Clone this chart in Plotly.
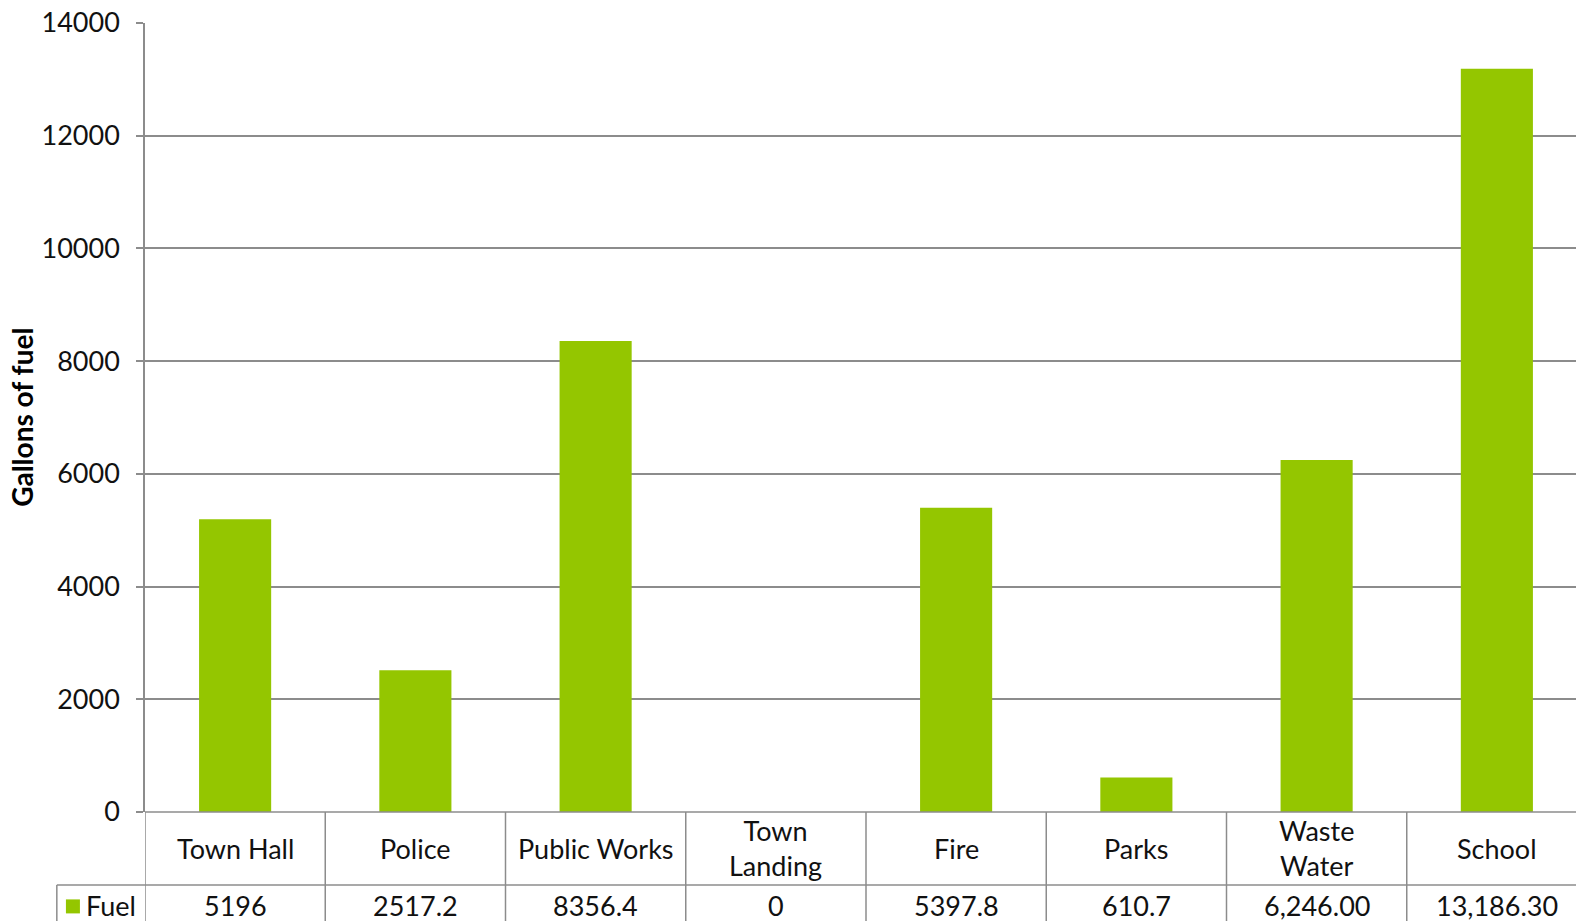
import plotly.graph_objects as go

categories = ["Town Hall", "Police", "Public Works", "Town<br>Landing", "Fire", "Parks", "Waste<br>Water", "School"]
fuel = [5196, 2517.2, 8356.4, 0, 5397.8, 610.7, 6246.00, 13186.30]
fuel_labels = ["5196", "2517.2", "8356.4", "0", "5397.8", "610.7", "6,246.00", "13,186.30"]
series_name = "Fuel"
y_ticks = [0, 2000, 4000, 6000, 8000, 10000, 12000, 14000]
y_title = "Gallons of fuel"

W, H = 1576, 921
L, T, B = 144.6, 22.6, 811.6
plot_h = B - T
plot_w = W - L
col_w = 180.3
n = len(categories)
x_max = plot_w / col_w - 0.5

GREEN = "#94c600"
GRID = "#8c8c8c"
FONT = "Lato, 'DejaVu Sans', sans-serif"
FS = 27

def py(px):
    return (B - px) / plot_h

def px_x(px):
    return (px - L) / plot_w

fig = go.Figure()
fig.add_trace(go.Bar(
    x=list(range(n)), y=fuel, name=series_name,
    marker=dict(color=GREEN, line=dict(width=0)),
    width=0.4, showlegend=False, hoverinfo="y",
))

fig.update_layout(
    width=W, height=H,
    margin=dict(l=L, r=0, t=T, b=H - B, pad=0),
    paper_bgcolor="white", plot_bgcolor="white",
    font=dict(family=FONT, size=FS, color="#111111"),
)
fig.update_xaxes(
    range=[-0.5, x_max], showticklabels=False, showgrid=False,
    zeroline=False, showline=False, ticks="", fixedrange=True,
)
fig.update_yaxes(
    range=[0, 14000], tickvals=y_ticks, ticktext=[str(v) for v in y_ticks],
    showgrid=True, gridcolor=GRID, gridwidth=1.5,
    ticks="outside", ticklen=7, tickcolor=GRID, tickwidth=1.5,
    ticklabelstandoff=11,
    showline=True, linecolor=GRID, linewidth=1.5,
    zeroline=False, tickfont=dict(size=FS, family=FONT, color="#111111"),
    fixedrange=True,
)

shapes = []
line = dict(color=GRID, width=1.5)
shapes.append(dict(type="line", xref="paper", yref="paper", x0=0, x1=1, y0=py(B), y1=py(B), line=line))
shapes.append(dict(type="line", xref="paper", yref="paper", x0=px_x(56.4), x1=1, y0=py(884.5), y1=py(884.5), line=line))
for i in range(n + 1):
    shapes.append(dict(type="line", xref="x", yref="paper", x0=i - 0.5, x1=i - 0.5, y0=py(B), y1=py(H + 2), line=line))
shapes.append(dict(type="line", xref="paper", yref="paper", x0=px_x(56.4), x1=px_x(56.4), y0=py(884.5), y1=py(H + 2), line=line))
shapes.append(dict(type="rect", xref="paper", yref="paper",
                   x0=px_x(65.5), x1=px_x(79.5), y0=py(913), y1=py(899),
                   fillcolor=GREEN, line=dict(width=0)))

annotations = []
for i, (c, lab) in enumerate(zip(categories, fuel_labels)):
    annotations.append(dict(x=i, y=py(848), xref="x", yref="paper", text=c, showarrow=False,
                            font=dict(size=FS, family=FONT, color="#111111"), xanchor="center", yanchor="middle"))
    annotations.append(dict(x=i, y=py(905), xref="x", yref="paper", text=lab, showarrow=False,
                            font=dict(size=FS, family=FONT, color="#111111"), xanchor="center", yanchor="middle"))
annotations.append(dict(x=px_x(84), y=py(905), xref="paper", yref="paper", text=series_name, showarrow=False,
                        font=dict(size=FS, family=FONT, color="#111111"), xanchor="left", yanchor="middle"))
annotations.append(dict(x=px_x(22), y=py(417), xref="paper", yref="paper", text="<b>" + y_title + "</b>",
                        showarrow=False, textangle=-90,
                        font=dict(size=28, family=FONT, color="#000000"), xanchor="center", yanchor="middle"))

fig.update_layout(shapes=shapes, annotations=annotations)
fig.write_html(
    "out.html",
    config={"displayModeBar": False},
    post_script="document.body.style.margin='0';document.body.style.overflow='hidden';document.documentElement.style.overflow='hidden';",
)
